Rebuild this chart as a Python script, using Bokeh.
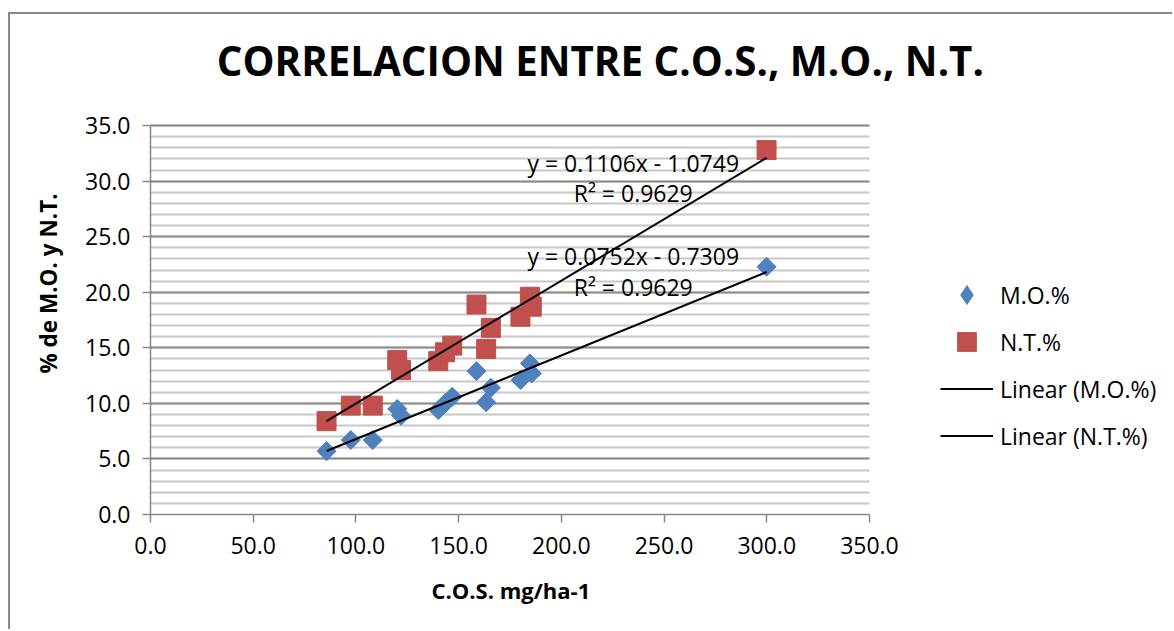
import numpy as np
from bokeh.plotting import figure
from bokeh.models import (Label, Legend, LegendItem, SingleIntervalTicker,
                          NumeralTickFormatter, Range1d, BoxAnnotation, Title)
from bokeh.embed import file_html
from bokeh.resources import INLINE

# ---------------- data ----------------
title_text = "CORRELACION ENTRE C.O.S., M.O., N.T."
x_label = "C.O.S. mg/ha-1"
y_label = "% de M.O. y N.T."

cos = [85.7, 97.5, 108.2, 120.1, 122.0, 140.1, 143.4, 146.9, 158.7, 165.7, 163.4, 180.1, 184.7, 185.6, 299.9]
mo = [5.7, 6.7, 6.7, 9.5, 8.9, 9.4, 10.0, 10.6, 12.9, 11.4, 10.1, 12.1, 13.6, 12.7, 22.3]
nt = [8.4, 9.8, 9.8, 13.9, 13.0, 13.8, 14.6, 15.2, 18.9, 16.8, 14.9, 17.8, 19.6, 18.7, 32.8]

series_names = ["M.O.%", "N.T.%"]
trend_names = ["Linear (M.O.%)", "Linear (N.T.%)"]
slopes = [0.0752, 0.1106]
intercepts = [-0.7309, -1.0749]
r_squared = [0.9629, 0.9629]
eq_texts = ["y = 0.0752x - 0.7309", "y = 0.1106x - 1.0749"]

x_axis_min, x_axis_max, x_step = 0, 350, 50
y_axis_min, y_axis_max, y_step = 0, 35, 5

# ---------------- layout / style ----------------
BLUE = "#4F81BD"
RED = "#C0504D"
FONT = "Open Sans"
AXIS_GRAY = "#868686"
# the plot frame reaches to the right and top edges; the axes keep to their bounds
VIEW_X_END = 498.5
VIEW_Y_END = 45.0

p = figure(width=1164, height=617, output_backend="svg", toolbar_location=None,
           x_range=Range1d(x_axis_min, VIEW_X_END), y_range=Range1d(y_axis_min, VIEW_Y_END),
           min_border_left=140, min_border_right=0,
           min_border_top=0, min_border_bottom=117)
p.styles = {"margin-left": "8px", "margin-top": "12px",
            "border-left": "2px solid #8A8A8A", "border-top": "2px solid #8A8A8A"}
p.outline_line_color = None
p.background_fill_color = "white"
p.border_fill_color = "white"

xt = SingleIntervalTicker(interval=x_step, num_minor_ticks=0)
yt = SingleIntervalTicker(interval=y_step, num_minor_ticks=5)
p.xaxis.ticker = xt
p.yaxis.ticker = yt
p.xaxis.bounds = (x_axis_min, x_axis_max)
p.yaxis.bounds = (y_axis_min, y_axis_max)
p.xgrid.grid_line_color = None
p.ygrid.ticker = yt
p.ygrid.bounds = (y_axis_min, y_axis_max)
p.ygrid.grid_line_color = "#8C8C8C"
p.ygrid.grid_line_width = 1.8
p.ygrid.minor_grid_line_color = "#C8C8C8"
p.ygrid.minor_grid_line_width = 1.8
# blank out the gridlines to the right of the plot area (legend region)
p.add_layout(BoxAnnotation(left=x_axis_max, fill_color="white", fill_alpha=1.0,
                           line_color=None, level="underlay"))

for ax in (p.xaxis[0], p.yaxis[0]):
    ax.axis_line_color = AXIS_GRAY
    ax.axis_line_width = 1.5
    ax.major_tick_line_color = AXIS_GRAY
    ax.major_tick_line_width = 1.5
    ax.major_tick_out = 8
    ax.major_tick_in = 0
    ax.minor_tick_out = 0
    ax.minor_tick_in = 0
    ax.formatter = NumeralTickFormatter(format="0.0")
    ax.major_label_text_font = FONT
    ax.major_label_text_font_size = "23px"
    ax.major_label_text_color = "black"

p.yaxis.major_label_standoff = 12
p.xaxis.major_label_standoff = 14

# axis titles, placed over the bounded axes rather than the whole frame
p.add_layout(Title(text=x_label, align="left", offset=281, vertical_align="top",
                   standoff=37, text_font=FONT, text_font_size="22px",
                   text_font_style="bold", text_color="black"), "below")
p.add_layout(Title(text=y_label, align="left", offset=141, vertical_align="middle",
                   standoff=36, text_font=FONT, text_font_size="22.5px",
                   text_font_style="bold", text_color="black"), "left")

# ---------------- glyphs ----------------
legend_mo = p.scatter(cos, mo, marker="diamond", size=4, fill_color=BLUE, line_color=BLUE)
r_mo = p.scatter(cos, mo, marker="square", angle=np.pi / 4, size=13.5,
                 fill_color=BLUE, line_color=BLUE)
r_nt = p.scatter(cos, nt, marker="square", size=19,
                 fill_color=RED, line_color=RED)

x_ends = np.array([min(cos), max(cos)])
trend_renderers = []
for s, b in zip(slopes, intercepts):
    trend_renderers.append(p.line(x_ends, s * x_ends + b, line_color="black", line_width=2))

# ---------------- texts ----------------
p.add_layout(Label(x=219, y=40.85, text=title_text, text_align="center",
                   text_baseline="middle", text_font=FONT,
                   text_font_size="40.3px", text_font_style="bold", text_color="black"))

eq_pos = [(235, 23.3, 20.5), (235, 31.67, 28.95)]
for (ex, ey, ry), eq, r2 in zip(eq_pos, eq_texts, r_squared):
    p.add_layout(Label(x=ex, y=ey, text=eq, text_align="center", text_baseline="middle",
                       text_font=FONT, text_font_size="23px", text_color="black"))
    p.add_layout(Label(x=ex, y=ry, text="R\u00b2 = %.4f" % r2, text_align="center",
                       text_baseline="middle", text_font=FONT, text_font_size="23px",
                       text_color="black"))

# ---------------- legend ----------------
legend = Legend(items=[
    LegendItem(label=series_names[0], renderers=[legend_mo]),
    LegendItem(label=series_names[1], renderers=[r_nt]),
    LegendItem(label=trend_names[0], renderers=[trend_renderers[0]]),
    LegendItem(label=trend_names[1], renderers=[trend_renderers[1]]),
], location=(790, 55))
legend.glyph_width = 53
legend.glyph_height = 47
legend.label_height = 47
legend.spacing = 0
legend.padding = 0
legend.margin = 0
legend.label_standoff = 7
legend.border_line_color = None
legend.background_fill_alpha = 0
legend.label_text_font = FONT
legend.label_text_font_size = "23px"
legend.label_text_color = "black"
p.add_layout(legend, "center")

open("out.html", "w").write(file_html(p, INLINE))
